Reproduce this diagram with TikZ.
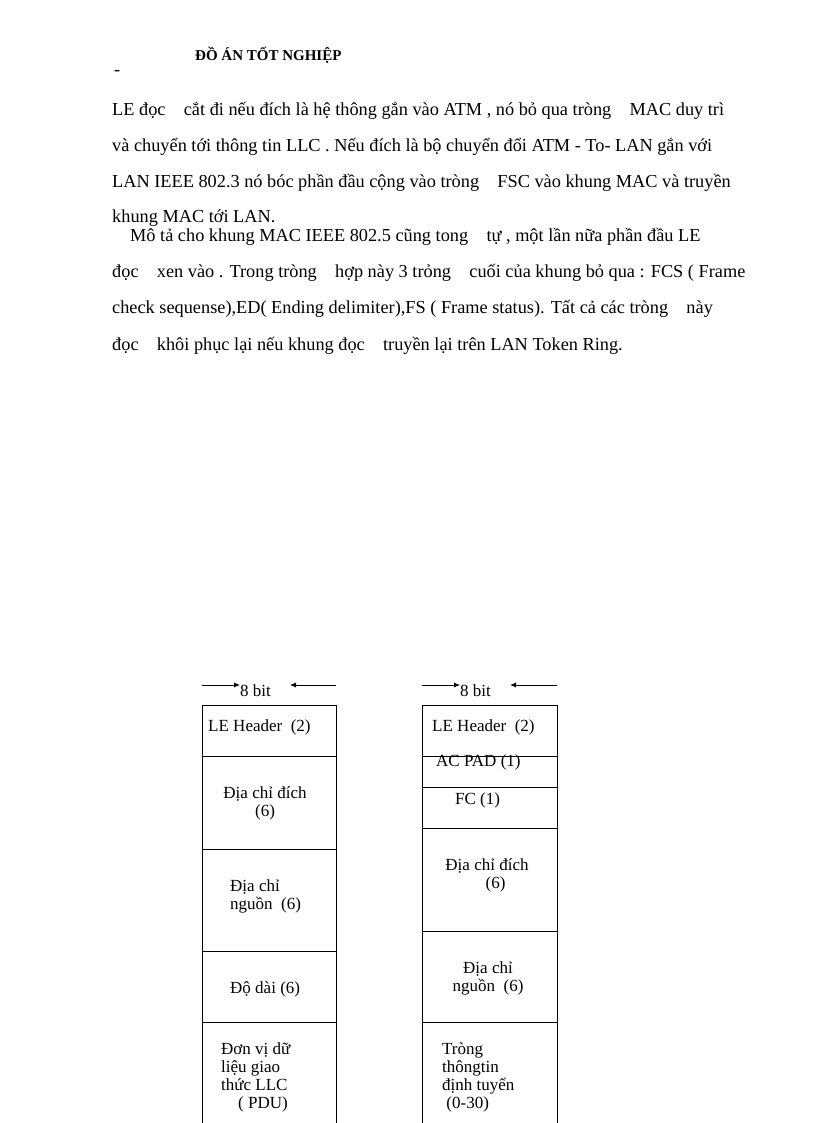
\documentclass[tikz,border=0pt]{standalone}
\usepackage{fontspec}
\setmainfont{Liberation Serif}
\usetikzlibrary{arrows.meta}
\begin{document}
\begin{tikzpicture}[x=1pt,y=-1pt,
 para/.style={anchor=west,inner sep=0pt,font=\fontsize{18.3}{18}\selectfont},
 cell/.style={anchor=west,inner sep=0pt,font=\fontsize{17}{18}\selectfont,align=left},
 ccell/.style={inner sep=0pt,font=\fontsize{17}{18}\selectfont,align=center},
 box/.style={draw,line width=0.8pt},
 arr/.style={-{Latex[length=6pt,width=5pt]},line width=0.8pt}]
\useasboundingbox (0,0) rectangle (816,1123);
\node[anchor=west,inner sep=0pt,font=\bfseries\fontsize{15}{15}\selectfont] (hd) at (195,55) {ĐỒ ÁN TỐT NGHIỆP};
\node[para] (dash) at (114,73) {-};
\node[para] (l1) at (112,111) {LE đọc\quad cắt đi nếu đích là hệ thông gắn vào ATM , nó bỏ qua tròng\quad MAC duy trì};
\node[para] (l2) at (112,147) {và chuyển tới thông tin LLC . Nếu đích là bộ chuyển đổi ATM - To- LAN gắn với};
\node[para] (l3) at (112,183) {LAN IEEE 802.3 nó bóc phần đầu cộng vào tròng\quad FSC vào khung MAC và truyền};
\node[para] (l4) at (112,218) {khung MAC tới LAN.};
\node[para] (l5) at (130,237) {Mô tả cho khung MAC IEEE 802.5 cũng tong\quad tự , một lần nữa phần đầu LE};
\node[para] (l6) at (112,273) {đọc\quad xen vào . Trong tròng\quad hợp này 3 trỏng\quad cuối của khung bỏ qua : FCS ( Frame};
\node[para] (l7) at (112,309) {check sequense),ED( Ending delimiter),FS ( Frame status). Tất cả các tròng\quad này};
\node[para] (l8) at (112,346) {đọc\quad khôi phục lại nếu khung đọc\quad truyền lại trên LAN Token Ring.};
% left column
\coordinate (la) at (202,685); \coordinate (lb) at (240,685);
\coordinate (lc) at (336,685); \coordinate (ld) at (290,685);
\draw[arr] (la) -- (lb); \draw[arr] (lc) -- (ld);
\node[cell] (lbit) at (240,691) {8 bit};
\draw[box] (202,1123) -- (202,705) -- (336,705) -- (336,1123);
\foreach \y in {756,849,951,1022} \draw[box] (202,\y) -- (336,\y);
\node[cell] (a1) at (208,727) {LE Header\ \ (2)};
\node[ccell] (a2) at (265,803) {Địa chỉ đích\\(6)};
\node[cell] (a3) at (230,896) {Địa chỉ\\nguồn\ \ (6)};
\node[cell] (a4) at (230,989) {Độ dài (6)};
\node[cell] (a5) at (221,1077) {Đơn vị dữ\\liệu giao\\thức LLC\\\quad( PDU)};
% right column
\coordinate (ra) at (422,685); \coordinate (rb) at (460,685);
\coordinate (rc) at (557,685); \coordinate (rd) at (510,685);
\draw[arr] (ra) -- (rb); \draw[arr] (rc) -- (rd);
\node[cell] (rbit) at (460,691) {8 bit};
\draw[box] (422,1123) -- (422,705) -- (557,705) -- (557,1123);
\foreach \y in {756,787,828,931,1022} \draw[box] (422,\y) -- (557,\y);
\node[cell] (b1) at (432,727) {LE Header\ \ (2)};
\node[cell] (b2) at (436,762) {AC PAD (1)};
\node[cell] (b3) at (455,800) {FC (1)};
\node[ccell] (b4) at (487,875) {Địa chỉ đích\\\ \ \ \ (6)};
\node[ccell] (b5) at (488,978) {Địa chỉ\\nguồn\ \ (6)};
\node[cell] (b6) at (442,1077) {Tròng\\thôngtin\\định tuyến\\\ (0-30)};
\end{tikzpicture}
\end{document}
